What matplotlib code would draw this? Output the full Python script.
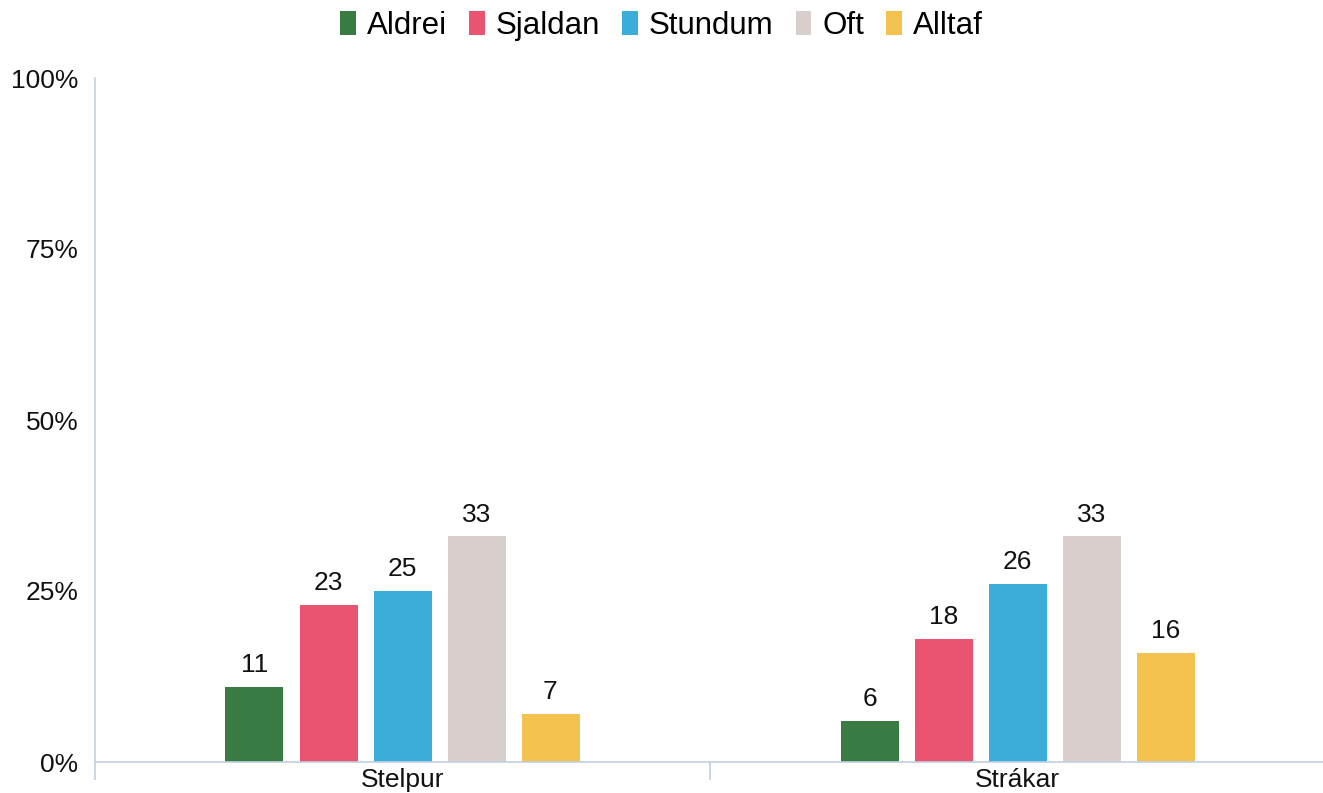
import numpy as np
import matplotlib
matplotlib.use("Agg")
import matplotlib.pyplot as plt

plt.rcParams["font.family"] = ["Liberation Sans", "DejaVu Sans"]

# -----------------------------
# Data
# -----------------------------
groups = ["Stelpur", "Strákar"]
answers = ["Aldrei", "Sjaldan", "Stundum", "Oft", "Alltaf"]
aldrei = [11, 6]
sjaldan = [23, 18]
stundum = [25, 26]
oft = [33, 33]
alltaf = [7, 16]
y_ticks = [0, 25, 50, 75, 100]

series = [aldrei, sjaldan, stundum, oft, alltaf]
colors = ["#387C44", "#EA5471", "#3BADD9", "#D8CFCC", "#F2C14E"]
axis_color = "#C1CFDF"

# -----------------------------
# Figure
# -----------------------------
fig = plt.figure(figsize=(13.23, 7.93), dpi=100)
ax = fig.add_axes([95 / 1323, 31 / 793, 1230 / 1323, 684 / 793])

x = np.arange(len(groups))
step = 74 / 615
width = 58 / 615

for i, (name, vals) in enumerate(zip(answers, series)):
    pos = x + (i - 2) * step
    bars = ax.bar(pos, vals, width=width, color=colors[i], label=name, zorder=2)
    for b, v in zip(bars, vals):
        ax.annotate(str(v), (b.get_x() + b.get_width() / 2, v),
                    xytext=(0, 7), textcoords="offset points",
                    ha="center", va="bottom", fontsize=19, color="#111111")

ax.set_xlim(-0.5, 1.5)
ax.set_ylim(0, 100)

ax.set_yticks(y_ticks)
ax.set_yticklabels([f"{t}%" for t in y_ticks])
ax.tick_params(axis="y", length=0, pad=12, labelsize=19, labelcolor="#111111")

ax.set_xticks(x)
ax.set_xticklabels(groups)
ax.tick_params(axis="x", which="major", length=0, pad=4, labelsize=19,
               labelcolor="#111111")
ax.set_xticks([-0.5, 0.5, 1.5], minor=True)
ax.tick_params(axis="x", which="minor", length=13, width=1.2, color=axis_color)

for side in ["top", "right"]:
    ax.spines[side].set_visible(False)
for side in ["left", "bottom"]:
    ax.spines[side].set_color(axis_color)
    ax.spines[side].set_linewidth(1.2)

fig.legend(loc="center", bbox_to_anchor=(0.5, 1 - 26 / 793), ncol=5,
           frameon=False, fontsize=22.5, handlelength=0.51, handleheight=0.77,
           handletextpad=0.35, columnspacing=0.7, borderaxespad=0)

fig.savefig("out.png", dpi=100)
